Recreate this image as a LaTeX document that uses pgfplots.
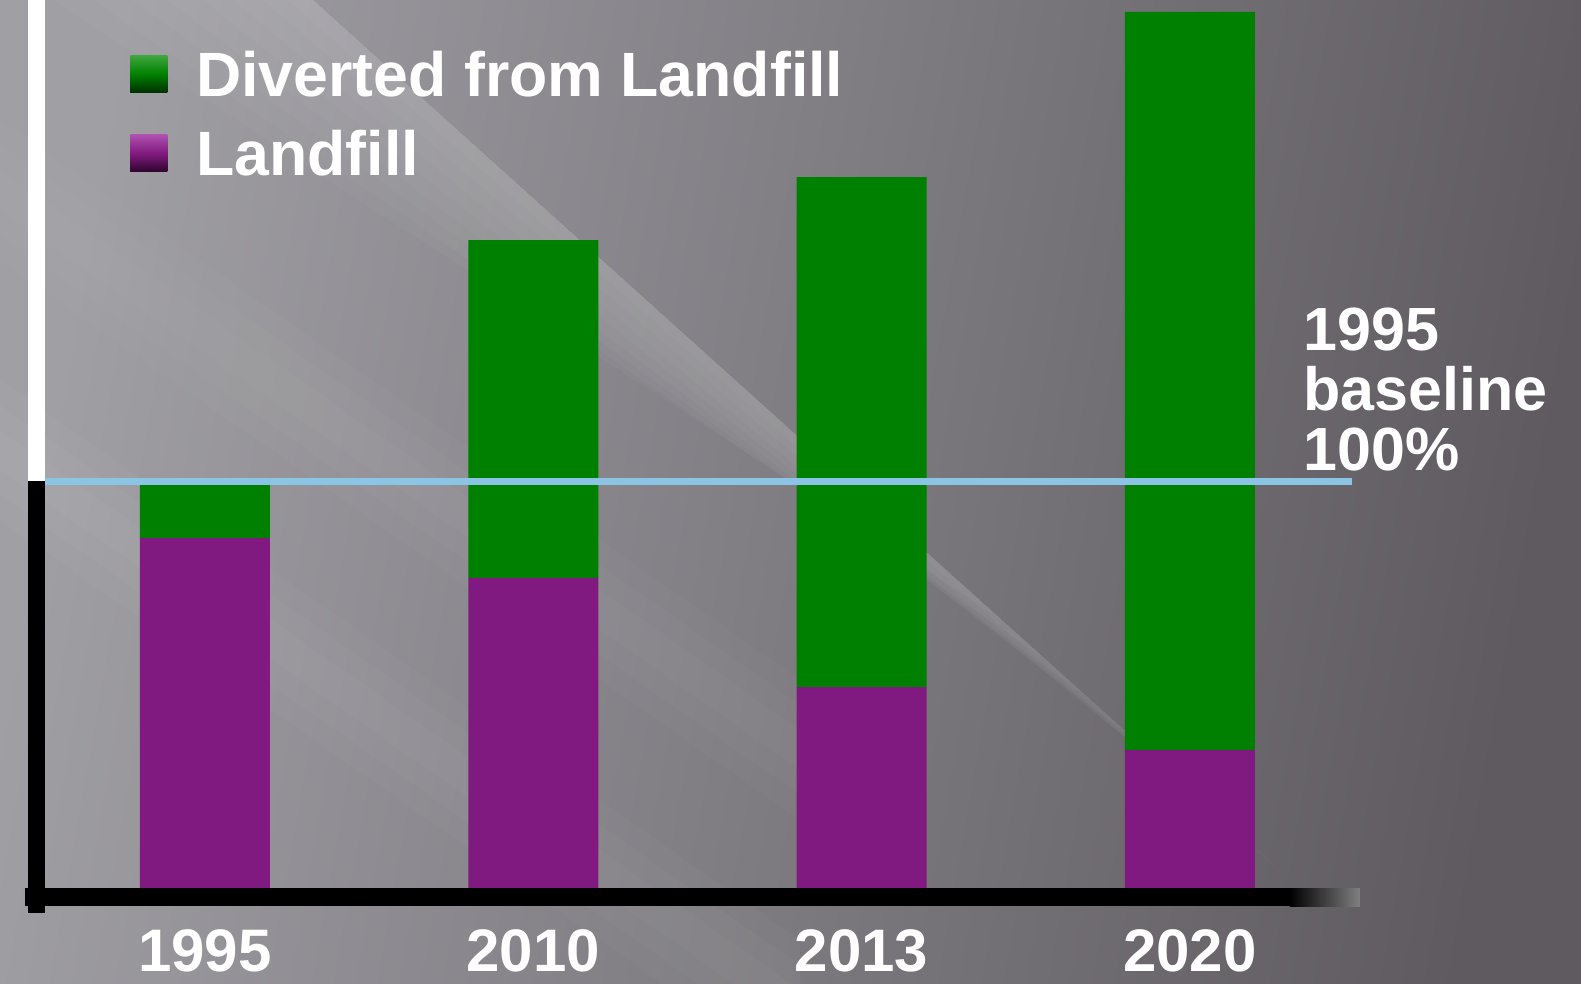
\documentclass[border=0pt]{standalone}
\usepackage{pgfplots}
\pgfplotsset{compat=1.18}
\usepackage{fontspec}
\setmainfont{Liberation Sans}
\definecolor{bargreen}{RGB}{0,128,0}
\definecolor{bargreenL}{RGB}{60,165,60}
\definecolor{bargreenD}{RGB}{0,45,0}
\definecolor{barpurple}{RGB}{128,26,128}
\definecolor{barpurpleL}{RGB}{175,80,175}
\definecolor{barpurpleD}{RGB}{45,5,45}
\definecolor{baseblue}{RGB}{140,196,230}
\definecolor{bgA}{RGB}{160,159,164}
\definecolor{bgB}{RGB}{94,90,96}
\begin{document}
\begin{tikzpicture}
\useasboundingbox (0,0) rectangle (790.5pt,492pt);
\shade[left color=bgA, right color=bgB, shading angle=80] (0,0) rectangle (790.5pt,492pt);
\begin{scope}[x=0.5pt, y=-0.5pt, shift={(0pt,492pt)}]
  % main light band (sharp upper-right edge, soft lower-left side, tapering out)
  \foreach \d/\pe in {25/900,50/860,80/820,110/780,145/740,180/700,220/660,260/620} {
    \fill[white, opacity=0.026] ({313-\d},0) -- (313,0) -- ({313+\pe/0.9},\pe) -- cycle;
  }
  % faint soft streaks on the left
  \foreach \w in {20,45,70} {
    \fill[white, opacity=0.022] (-100,{380-\w}) -- (-100,{380+\w}) -- (800,{1010+\w}) -- (800,{1010-\w}) -- cycle;
    \fill[white, opacity=0.018] (-100,{120-\w}) -- (-100,{120+\w}) -- (900,{820+\w}) -- (900,{820-\w}) -- cycle;
  }
\end{scope}
\begin{axis}[
  at={(18pt,44.5pt)}, anchor=south west, scale only axis,
  width=658pt, height=447.5pt,
  xmin=-0.5148, xmax=3.494, ymin=0, ymax=216.2,
  clip=false,
  axis line style={draw=none},
  ytick=\empty,
  xtick={0,1,2,3},
  xticklabels={1995,2010,2013,2020},
  major tick length=0pt,
  xticklabel style={font=\fontsize{30}{30}\selectfont\bfseries, text=white, inner sep=0pt, yshift=-17pt},
  ybar stacked, bar width=65pt,
  reverse legend,
  legend cell align=left,
  legend style={draw=none, fill=none, inner sep=0pt, at={(0.0714,0.9458)}, anchor=north west,
    font=\fontsize{31.3}{31}\selectfont\bfseries, text=white,
    nodes={text height=22pt, text depth=0pt}, row sep=13.5pt},
]
\draw[baseblue, line width=3.5pt] (axis cs:-0.487,100) -- (axis cs:3.494,100);
\fill[white] ([xshift=-4.25pt]axis cs:-0.5148,100) rectangle ([xshift=4.25pt]axis cs:-0.5148,216.2);
\fill[black] ([xshift=-4.25pt]axis cs:-0.5148,100.5) rectangle ([xshift=4.25pt,yshift=-9pt]axis cs:-0.5148,0);
\fill[black] ([yshift=4.5pt]axis cs:-0.548,-0.5) rectangle ([yshift=-4.5pt]axis cs:3.305,-0.5);
\shade[left color=black, right color=gray] ([yshift=4.5pt]axis cs:3.305,-0.5) rectangle ([yshift=-4.5pt]axis cs:3.518,-0.5);
\addplot[fill=barpurple, draw=none,
  legend image code/.code={\shade[top color=barpurpleL, bottom color=barpurpleD, middle color=barpurple] (0pt,-9pt) rectangle (18.5pt,9.5pt); \path[draw=none, fill=none] (0pt,0pt) -- (31pt,0pt);}]
  coordinates {(0,86.2) (1,76.6) (2,50.2) (3,35.0)};
\addplot[fill=bargreen, draw=none,
  legend image code/.code={\shade[top color=bargreenL, bottom color=bargreenD, middle color=bargreen] (0pt,-9pt) rectangle (18.5pt,9.5pt); \path[draw=none, fill=none] (0pt,0pt) -- (31pt,0pt);}]
  coordinates {(0,13.8) (1,81.6) (2,123.2) (3,178.3)};
\legend{Landfill, Diverted from Landfill}
\end{axis}
\node[anchor=north west, inner sep=0pt, align=left, text=white, font=\fontsize{30.5}{30}\selectfont\bfseries] at (651.5pt,338pt) {1995\\baseline\\100\%};
\end{tikzpicture}
\end{document}
